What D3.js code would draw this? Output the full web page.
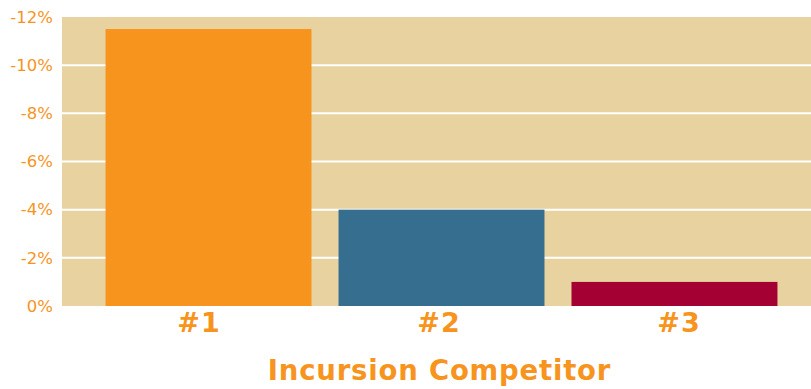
<!DOCTYPE html>
<html>
<head>
<meta charset="utf-8">
<script src="https://cdnjs.cloudflare.com/ajax/libs/d3/7.8.5/d3.min.js"></script>
<style>
  body { margin: 0; background: #fff; }
  text { font-family: "DejaVu Sans", Verdana, sans-serif; }
</style>
</head>
<body>
<div id="chart"></div>
<script>
const competitors = ['#1', '#2', '#3']
const shareChange = [-11.5, -4, -1]
const barColors = ['#F7941E', '#366E8F', '#A50034']
const yTicks = [0, -2, -4, -6, -8, -10, -12]

const width = 811, height = 389
const plot = { left: 62, right: 811, top: 17, bottom: 306 }

const svg = d3.select('#chart').append('svg')
    .attr('width', width)
    .attr('height', height)

svg.append('rect')
    .attr('x', plot.left)
    .attr('y', plot.top)
    .attr('width', plot.right - plot.left)
    .attr('height', plot.bottom - plot.top)
    .attr('fill', '#E8D3A0')

const x = d3.scaleBand()
    .domain(competitors)
    .range([72, plot.right])
    .paddingInner(0.116)
    .paddingOuter(0.144)

// labels sit on a slightly wider spacing than the bars
const xLabel = d3.scaleBand()
    .domain(competitors)
    .range([79, 799])

// negative values go up: 0 at the bottom, -12 at the top
const y = d3.scaleLinear()
    .domain([0, -12])
    .range([plot.bottom, plot.top])

// gridlines
svg.append('g').selectAll('line')
    .data(yTicks.filter(d => d !== 0 && d !== -12))
    .enter().append('line')
    .attr('x1', plot.left)
    .attr('x2', plot.right)
    .attr('y1', d => y(d))
    .attr('y2', d => y(d))
    .attr('stroke', '#fff')
    .attr('stroke-width', 2)

svg.append('g').selectAll('rect')
    .data(competitors)
    .enter().append('rect')
    .attr('x', d => x(d))
    .attr('width', x.bandwidth())
    .attr('y', (d, i) => y(shareChange[i]))
    .attr('height', (d, i) => plot.bottom - y(shareChange[i]))
    .attr('fill', (d, i) => barColors[i])

const yAxis = svg.append('g')
    .attr('transform', `translate(${plot.left},0)`)
    .call(d3.axisLeft(y).tickValues(yTicks).tickSize(0).tickPadding(9).tickFormat(d => d + '%'))
yAxis.select('.domain').remove()
yAxis.selectAll('text')
    .attr('fill', '#F7941E')
    .style('font-size', '16.5px')

const xAxis = svg.append('g')
    .attr('transform', `translate(0,${plot.bottom})`)
    .call(d3.axisBottom(xLabel).tickSize(0).tickPadding(7))
xAxis.select('.domain').remove()
xAxis.selectAll('text')
    .attr('fill', '#F7941E')
    .style('font-size', '27px')
    .style('font-weight', 'bold')
    .style('letter-spacing', '1px')

svg.append('text')
    .attr('x', 439.5)
    .attr('y', 380)
    .attr('text-anchor', 'middle')
    .attr('fill', '#F7941E')
    .style('font-size', '27.5px')
    .style('font-weight', 'bold')
    .style('letter-spacing', '0.8px')
    .text('Incursion Competitor')
</script>
</body>
</html>
